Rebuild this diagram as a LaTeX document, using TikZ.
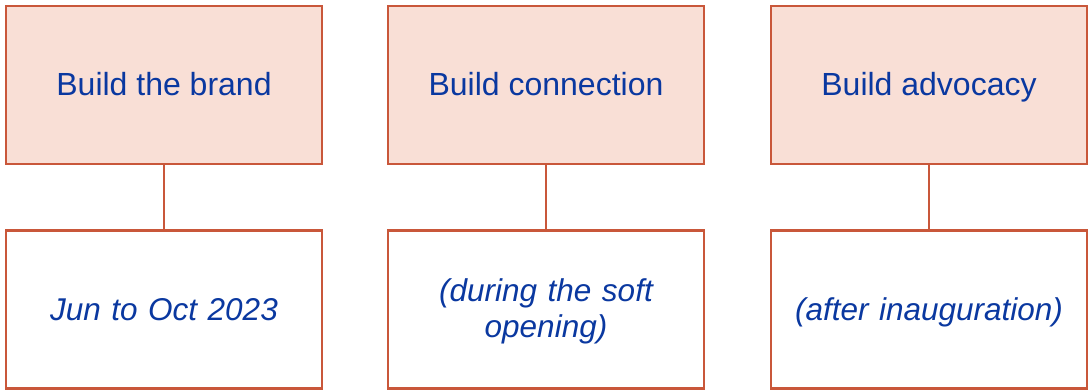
\documentclass[tikz,border=0pt]{standalone}
\usepackage{fontspec}
\setmainfont{Liberation Sans}
\usetikzlibrary{positioning}

\definecolor{boxline}{HTML}{C9573A}
\definecolor{boxfill}{HTML}{F9DFD6}
\definecolor{boxtext}{HTML}{0A38A0}

\tikzset{
  stage/.style={draw=boxline, line width=2.4pt, fill=boxfill, text=boxtext,
    minimum width=316pt, minimum height=158pt, align=center,
    font=\fontsize{32}{37}\selectfont},
  period/.style={stage, fill=white, text width=300pt,
    font=\fontsize{31.5}{36}\selectfont\itshape},
  oneline/.style={text height=28pt, text depth=7pt},
  link/.style={draw=boxline, line width=2.4pt}
}

\begin{document}
\begin{tikzpicture}[x=1pt, y=1pt]
  \useasboundingbox (0,0) rectangle (1089,-390);

  % Top row: the three stages
  \node[stage, oneline] (brand) at (164,-85) {Build the brand};
  \node[stage, oneline] (conn)  at (546,-85) {Build connection};
  \node[stage, oneline] (advo)  at (929,-85) {Build advocacy};

  % Bottom row: when each stage happens
  \node[period, oneline] (brandT) at (164,-309.5) {Jun to Oct 2023};
  \node[period, text height=27pt, text depth=43pt] (connT) at (546,-309.5)
    {(during the soft\\opening)};
  \node[period, oneline] (advoT)  at (929,-309.5) {(after inauguration)};

  % Vertical links
  \draw[link] (brand) -- (brandT);
  \draw[link] (conn) -- (connT);
  \draw[link] (advo) -- (advoT);
\end{tikzpicture}
\end{document}
